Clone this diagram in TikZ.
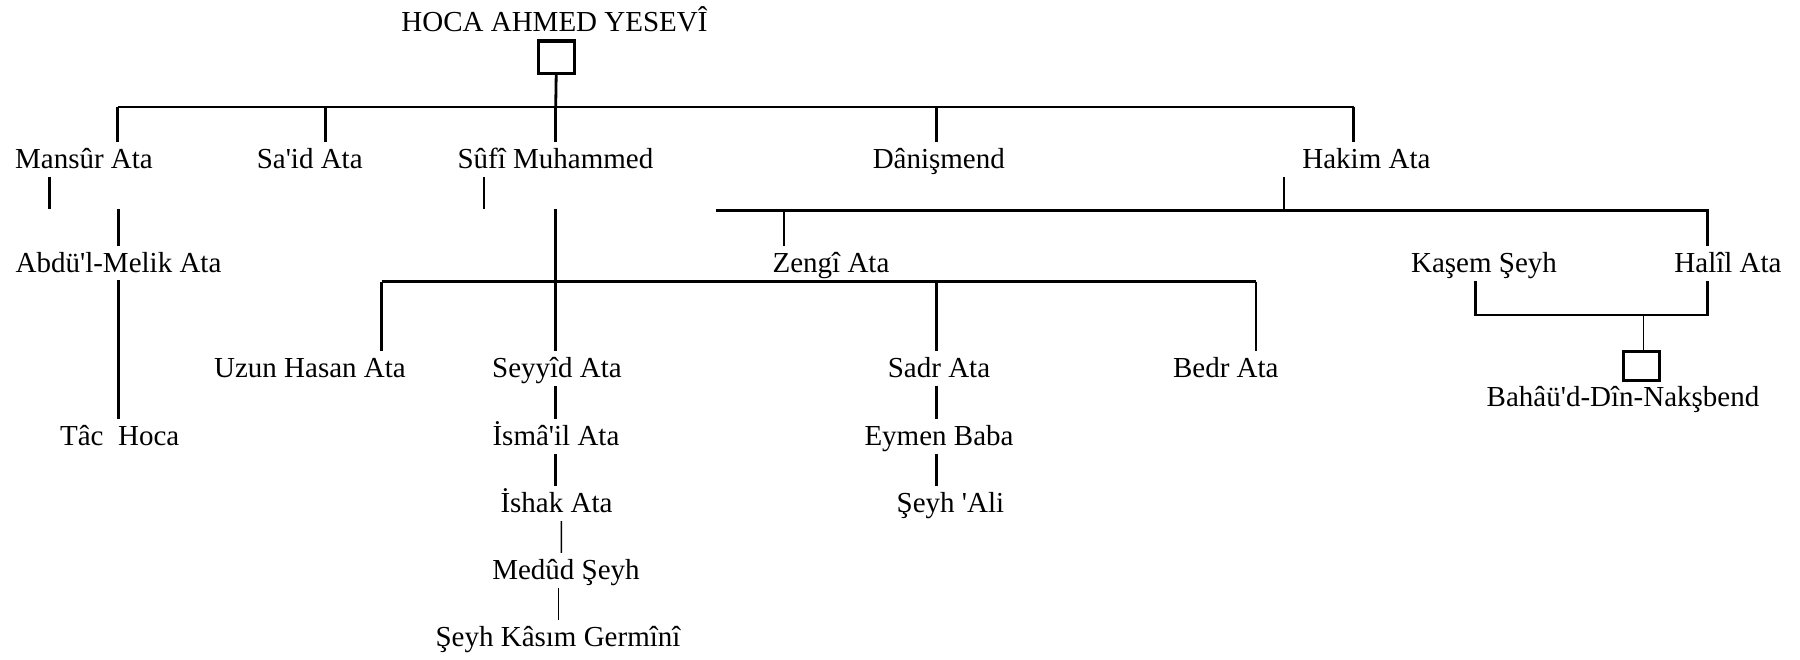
\documentclass[tikz,border=0pt]{standalone}
\usepackage{fontspec}
\setmainfont{Liberation Serif}[Ligatures=TeXOff]
\begin{document}
\begin{tikzpicture}[x=0.5pt,y=-0.5pt,
  person/.style={font=\fontsize{14.5pt}{17pt}\selectfont, inner sep=0pt,
                 text height=13pt, text depth=4pt, anchor=base},
  link/.style={line width=1.4pt, line join=miter},
  thinlink/.style={line width=0.8pt},
  marker/.style={draw, line width=1.6pt, inner sep=0pt,
                 minimum width=18pt, minimum height=16.3pt}]
\useasboundingbox (0,0) rectangle (1800,659);

% ---- names ----
\node[person] (title)  at (554.5,31.7)  {HOCA AHMED YESEVÎ};
\node[marker] (rootbox) at (556.2,57.2) {};

\node[person] (mansur) at (84,168.3)    {Mansûr Ata};
\node[person] (said)   at (309.7,168.3) {Sa'id Ata};
\node[person] (sufi)   at (555.4,168.3) {Sûfî Muhammed};
\node[person] (danis)  at (938.8,168.3) {Dânişmend};
\node[person] (hakim)  at (1366.4,168.3){Hakim Ata};

\node[person] (abdul)  at (118.5,272)   {Abdü'l-Melik Ata};
\node[person] (zengi)  at (831,272)     {Zengî Ata};
\node[person] (kasem)  at (1484,272.5)  {Kaşem Şeyh};
\node[person] (halil)  at (1728,272.5)  {Halîl Ata};

\node[person] (uzun)   at (310,377.7)   {Uzun Hasan Ata};
\node[person] (seyyid) at (557,377.7)   {Seyyîd Ata};
\node[person] (sadr)   at (939,377.7)   {Sadr Ata};
\node[person] (bedr)   at (1225.8,377.7){Bedr Ata};

\node[person] (tac)    at (119.7,445.7) {Tâc\ \ Hoca};
\node[person] (ismail) at (556,445.7)   {İsmâ'il Ata};
\node[person] (eymen)  at (939,445.7)   {Eymen Baba};

\node[person] (ishak)  at (556.5,512.7) {İshak Ata};
\node[person] (seyhali) at (950.5,512.7){Şeyh 'Ali};

\node[person] (medud)  at (566,579.3)   {Medûd Şeyh};
\node[person] (kasim)  at (558,646)     {Şeyh Kâsım Germînî};

\node[marker, minimum height=14.5pt] (bahabox) at (1641.3,366.2) {};
\node[person] (bahau)  at (1623,406.7)  {Bahâü'd-Dîn-Nakşbend};

% ---- junction points ----
\coordinate (rootbar) at (555.7,107);
\coordinate (t1) at (117.7,107);
\coordinate (t2) at (325.5,107);
\coordinate (t4) at (936.2,107);
\coordinate (t5) at (1353.5,107);

\coordinate (m1) at (49.4,209.3);
\coordinate (s1) at (484,209.3);
\coordinate (a0) at (118.5,209.3);
\coordinate (s2) at (555.7,209.3);

\coordinate (hbarL) at (716,210.5);
\coordinate (hjoin) at (1284,210.5);
\coordinate (zdrop) at (784,210.5);
\coordinate (hbarR) at (1707.7,210.5);

\coordinate (zbarL) at (381.7,281.7);
\coordinate (zsadr) at (936.2,281.7);
\coordinate (zbarR) at (1256,281.7);

\coordinate (kL) at (1475.8,315);
\coordinate (kR) at (1707.7,315);
\coordinate (kM) at (1643.4,315);

% ---- first generation ----
\draw[link] (rootbox.south) -- (rootbar);
\draw[link] (t1) -- (t5);
\draw[link] (t1) -- (t1 |- mansur.north);
\draw[link] (t2) -- (t2 |- said.north);
\draw[link] (rootbar) -- (rootbar |- sufi.north);
\draw[link] (t4) -- (t4 |- danis.north);
\draw[link] (t5) -- (t5 |- hakim.north);

% ---- stubs under the first generation ----
\draw[link] (m1 |- mansur.south) -- (m1);
\draw[link] (s1 |- sufi.south) -- (s1);
\draw[link] (a0) -- (a0 |- abdul.north);
\draw[link] (hjoin |- hakim.south) -- (hjoin);

% ---- Hakim Ata's line ----
\draw[link] (hbarL) -- (hbarR) -- (hbarR |- halil.north);
\draw[link] (zdrop) -- (zdrop |- zengi.north);

% ---- Zengî Ata's line ----
\draw[link] (zbarL) -- (zbarR);
\draw[link] (zbarL) -- (zbarL |- uzun.north);
\draw[link] (s2) -- (s2 |- seyyid.north);
\draw[link] (zsadr) -- (zsadr |- sadr.north);
\draw[link] (zbarR) -- (zbarR |- bedr.north);

% ---- chains ----
\draw[link] (a0 |- abdul.south) -- (a0 |- tac.north);
\draw[link] (s2 |- seyyid.south) -- (s2 |- ismail.north);
\draw[link] (s2 |- ismail.south) -- (s2 |- ishak.north);
\draw[thinlink] ([xshift=2.4pt]ishak.south) -- ([xshift=-2.3pt]medud.north);
\draw[thinlink] ([xshift=-3.75pt]medud.south) -- ([xshift=0.25pt]kasim.north);
\draw[link] (zsadr |- sadr.south) -- (zsadr |- eymen.north);
\draw[link] (zsadr |- eymen.south) -- (zsadr |- seyhali.north);

% ---- Kaşem Şeyh and Halîl Ata ----
\draw[link] (kL |- kasem.south) -- (kL) -- (kR) -- (kR |- halil.south);
\draw[thinlink] (kM) -- (kM |- bahabox.north);
\end{tikzpicture}
\end{document}
